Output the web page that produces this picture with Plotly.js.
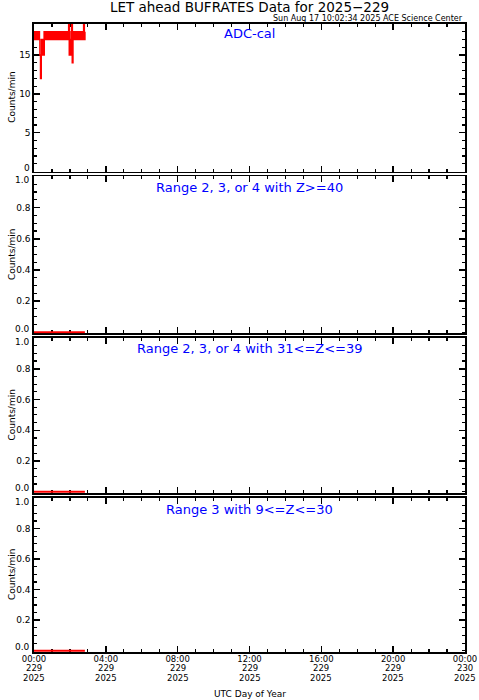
<!DOCTYPE html>
<html>
<head>
<meta charset="utf-8">
<script src="https://cdn.plot.ly/plotly-3.0.1.min.js"></script>
<style>html,body{margin:0;padding:0;background:#fff;}#chart{width:479px;height:700px;}</style>
</head>
<body>
<div id="chart"></div>
<script>
// ---- data ----
const chartTitle = 'LET ahead BUFRATES Data for 2025\u2212229';
const stamp = 'Sun Aug 17 10:02:34 2025 ACE Science Center';
const panelLabels = ['ADC-cal', 'Range 2, 3, or 4 with Z>=40', 'Range 2, 3, or 4 with 31<=Z<=39', 'Range 3 with 9<=Z<=30'];
const yTitle = 'Counts/min';
const xTitle = 'UTC Day of Year';

// ADC-cal samples every 2 minutes starting 2025-08-17 00:00 (day 229)
const adcStart = '2025-08-17 00:00';
const adcStepMin = 2;
const adcValues = [
  18,17,18,17,18,17,18,17,18,17,
  15,12,15,17,15,17,15,18,17,18,
  17,18,17,18,17,18,17,18,17,18,
  17,18,17,18,17,18,17,18,17,18,
  17,18,17,18,17,18,17,18,17,18,
  17,18,17,18,17,18,17,18,20,15,
  17,15,18,20,14,17,18,17,18,17,
  18,17,18,17,18,17,18,17,18,17,
  18,17,18,20,17,18
];
// Z-range rate panels (all zero over the data interval)
const rateTimes = ['2025-08-17 00:00', '2025-08-17 02:50'];
const z40Values = [0, 0];
const z31Values = [0, 0];
const z9Values = [0, 0];

const xRange = ['2025-08-17 00:00', '2025-08-18 00:00'];
const xTickVals = ['2025-08-17 00:00','2025-08-17 04:00','2025-08-17 08:00','2025-08-17 12:00','2025-08-17 16:00','2025-08-17 20:00','2025-08-18 00:00'];
const xTimeLabels = ['00:00','04:00','08:00','12:00','16:00','20:00','00:00'];
const xDayLabels = ['229','229','229','229','229','229','230'];
const xYearLabels = ['2025','2025','2025','2025','2025','2025','2025'];

const adcTickVals = [5, 10, 15];
const adcTickText = ['5', '10', '15'];
const adcEdgeVals = [0];
const adcEdgeText = ['0'];
const rateTickVals = [0.2, 0.4, 0.6, 0.8];
const rateTickText = ['0.2', '0.4', '0.6', '0.8'];
const rateEdgeVals = [0, 1];
const rateEdgeText = ['0.0', '1.0'];

// ---- build times ----
function pad(n){return (n<10?'0':'')+n;}
const t0 = new Date(adcStart.replace(' ', 'T') + ':00Z').getTime();
const adcTimes = adcValues.map((v, i) => {
  const d = new Date(t0 + i * adcStepMin * 60000);
  return d.getUTCFullYear() + '-' + pad(d.getUTCMonth()+1) + '-' + pad(d.getUTCDate()) + ' ' + pad(d.getUTCHours()) + ':' + pad(d.getUTCMinutes());
});

const FONT = 'DejaVu Sans, Liberation Sans, sans-serif';
const RED = '#ff0000';
const PH = 628; // plot area height in px (for paper offsets)
const XFS = 8.5; // bottom time label font size

const traces = [
  {x: adcTimes, y: adcValues, xaxis: 'x', yaxis: 'y', type: 'scatter', mode: 'lines', line: {color: RED, width: 1.6, shape: 'hv'}, hoverinfo: 'skip'},
  {x: rateTimes, y: z40Values, xaxis: 'x2', yaxis: 'y2', type: 'scatter', mode: 'lines', line: {color: RED, width: 2}, hoverinfo: 'skip'},
  {x: rateTimes, y: z31Values, xaxis: 'x3', yaxis: 'y3', type: 'scatter', mode: 'lines', line: {color: RED, width: 2}, hoverinfo: 'skip'},
  {x: rateTimes, y: z9Values, xaxis: 'x4', yaxis: 'y4', type: 'scatter', mode: 'lines', line: {color: RED, width: 2}, hoverinfo: 'skip'}
];

function xAxis(anchor, showLabels) {
  return {
    type: 'date', anchor: anchor, range: xRange,
    tickmode: 'array', tickvals: xTickVals, ticktext: xTimeLabels,
    showticklabels: showLabels, tickfont: {family: FONT, size: XFS, color: '#000'},
    ticklabelstandoff: -2,
    ticks: 'inside', ticklen: 6, tickwidth: 1.5, tickcolor: '#000',
    minor: {tickmode: 'linear', tick0: '2025-08-17 00:00', dtick: 3600000, ticks: 'inside', ticklen: 3, tickwidth: 1.2, tickcolor: '#000'},
    showline: true, linewidth: 1.6, linecolor: '#000', mirror: 'ticks',
    showgrid: false, zeroline: false, layer: 'below traces', fixedrange: true
  };
}
function yAxis(domain, range, vals, text, minorStep) {
  return {
    domain: domain, range: range, tickmode: 'array', tickvals: vals, ticktext: text,
    tickfont: {family: FONT, size: 9, color: '#000'},
    ticks: 'inside', ticklen: 6, tickwidth: 1.5, tickcolor: '#000',
    minor: {tickmode: 'linear', tick0: 0, dtick: minorStep, ticks: 'inside', ticklen: 3, tickwidth: 1.2, tickcolor: '#000'},
    showline: true, linewidth: 1.6, linecolor: '#000', mirror: 'ticks',
    showgrid: false, zeroline: false, layer: 'below traces', fixedrange: true
  };
}

const doms = [[0.7651, 1], [0.5072, 0.7572], [0.2532, 0.5], [0, 0.2452]];
const yNames = ['y', 'y2', 'y3', 'y4'];

const annotations = [
  {text: stamp, xref: 'paper', yref: 'paper', x: 1, y: 1 + 5 / PH, xanchor: 'right', yanchor: 'middle', showarrow: false, font: {family: FONT, size: 8, color: '#000'}},
  {text: xTitle, xref: 'paper', yref: 'paper', x: 0.5, y: -42 / PH, xanchor: 'center', yanchor: 'middle', showarrow: false, font: {family: FONT, size: 9, color: '#000'}}
];
// second and third rows of the bottom time labels (day of year, year)
xTickVals.forEach((v, i) => {
  annotations.push({text: xDayLabels[i], xref: 'x4', yref: 'paper', x: v, y: -15.5 / PH, xanchor: 'center', yanchor: 'middle', borderpad: 0, showarrow: false, font: {family: FONT, size: XFS, color: '#000'}});
  annotations.push({text: xYearLabels[i], xref: 'x4', yref: 'paper', x: v, y: -25.5 / PH, xanchor: 'center', yanchor: 'middle', borderpad: 0, showarrow: false, font: {family: FONT, size: XFS, color: '#000'}});
});
const labelOffsets = [9, 11, 11, 11];
doms.forEach((d, i) => {
  annotations.push({text: panelLabels[i], xref: 'paper', yref: 'paper', x: 0.5, y: d[1] - labelOffsets[i] / PH, xanchor: 'center', yanchor: 'middle', showarrow: false, font: {family: FONT, size: 13, color: '#0000ff'}});
  annotations.push({text: yTitle, xref: 'paper', yref: 'paper', x: -22 / 432, y: (d[0] + d[1]) / 2, xanchor: 'center', yanchor: 'middle', textangle: -90, showarrow: false, font: {family: FONT, size: 9, color: '#000'}});
  // end-of-axis value labels, nudged inside the panel like the original
  const ev = i === 0 ? adcEdgeVals : rateEdgeVals;
  const et = i === 0 ? adcEdgeText : rateEdgeText;
  ev.forEach((v, k) => {
    const isTop = (i > 0 && v === 1);
    annotations.push({text: et[k], xref: 'paper', yref: yNames[i], x: -3 / 432, y: v, xanchor: 'right', yanchor: 'middle', yshift: isTop ? -3.5 : 3.5, borderpad: 0, showarrow: false, font: {family: FONT, size: 9, color: '#000'}});
  });
});

const layout = {
  width: 479, height: 700,
  margin: {l: 34, r: 14, t: 24, b: 48, pad: 0},
  paper_bgcolor: '#fff', plot_bgcolor: '#fff',
  showlegend: false,
  font: {family: FONT, color: '#000'},
  title: {text: chartTitle, font: {family: FONT, size: 13.5, color: '#000'}, xref: 'paper', x: 0.5, xanchor: 'center', yref: 'container', y: 0.99, yanchor: 'middle'},
  xaxis: xAxis('y', false),
  xaxis2: xAxis('y2', false),
  xaxis3: xAxis('y3', false),
  xaxis4: xAxis('y4', true),
  yaxis: yAxis(doms[0], [0, 19], adcTickVals, adcTickText, 1),
  yaxis2: yAxis(doms[1], [-0.008, 1], rateTickVals, rateTickText, 0.05),
  yaxis3: yAxis(doms[2], [-0.008, 1], rateTickVals, rateTickText, 0.05),
  yaxis4: yAxis(doms[3], [-0.008, 1], rateTickVals, rateTickText, 0.05),
  annotations: annotations
};

Plotly.newPlot('chart', traces, layout, {staticPlot: true, displayModeBar: false});
</script>
</body>
</html>
